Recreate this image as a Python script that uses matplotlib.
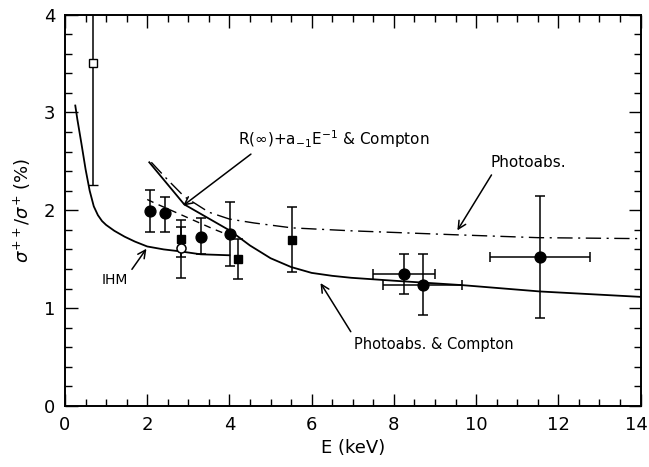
import matplotlib
matplotlib.use("Agg")
import matplotlib.pyplot as plt
from matplotlib.ticker import MultipleLocator
import numpy as np

# ---- data ----
# filled circles
circ_x = [2.06, 2.44, 3.32, 4.01, 8.24, 8.70, 11.56]
circ_y = [1.99, 1.97, 1.73, 1.76, 1.35, 1.235, 1.52]
circ_ylo = [1.78, 1.78, 1.55, 1.43, 1.14, 0.93, 0.90]
circ_yhi = [2.21, 2.14, 1.92, 2.08, 1.55, 1.55, 2.15]
circ_xlo = [2.06, 2.44, 3.32, 4.01, 7.49, 7.73, 10.34]
circ_xhi = [2.06, 2.44, 3.32, 4.01, 8.99, 9.66, 12.78]

# filled squares
sq_x = [2.82, 4.22, 5.52]
sq_y = [1.71, 1.50, 1.70]
sq_ylo = [1.52, 1.30, 1.37]
sq_yhi = [1.90, 1.71, 2.03]

# open circle
oc_x = [2.82]
oc_y = [1.61]
oc_ylo = [1.31]
oc_yhi = [1.83]

# open square
os_x = [0.67]
os_y = [3.50]
os_ylo = [2.26]
os_yhi = [4.3]

# IHM curve (solid)
ihm_x = [0.25, 0.30, 0.40, 0.50, 0.60, 0.70, 0.80, 0.90, 1.00, 1.20, 1.45, 1.70, 2.00, 2.40, 2.80, 3.30, 4.00]
ihm_y = [3.07, 2.93, 2.68, 2.42, 2.20, 2.04, 1.95, 1.89, 1.85, 1.79, 1.73, 1.68, 1.63, 1.60, 1.58, 1.55, 1.54]

# Photoabs. & Compton (solid)
pc_x = [2.05, 2.90, 4.02, 4.50, 4.77, 5.00, 5.50, 6.00, 6.50, 6.96, 8.00, 9.66, 11.56, 14.0]
pc_y = [2.49, 2.06, 1.79, 1.64, 1.57, 1.51, 1.42, 1.36, 1.33, 1.31, 1.28, 1.235, 1.17, 1.115]

# Photoabs. (dash-dot)
pa_x = [2.1, 2.5, 2.9, 3.5, 4.0, 4.6, 5.52, 6.96, 9.46, 11.5, 14.0]
pa_y = [2.49, 2.31, 2.14, 1.98, 1.91, 1.87, 1.82, 1.79, 1.75, 1.72, 1.71]

# R(inf)+a_-1 E^-1 & Compton (dashed)
ra_x = [2.0, 2.2, 2.9, 3.6, 3.9]
ra_y = [2.11, 2.07, 1.94, 1.81, 1.76]

x_ticks = [0, 2, 4, 6, 8, 10, 12, 14]
x_ticklabels = ['0', '2', '4', '6', '8', '10', '12', '14']

fig = plt.figure(figsize=(6.49, 4.67), dpi=100)
ax = fig.add_axes([65/649, 1-406/467, 575.5/649, 391.5/467])

lw = 1.3
ax.plot(ihm_x, ihm_y, color='black', lw=lw)
ax.plot(pc_x, pc_y, color='black', lw=lw)
ax.plot(pa_x, pa_y, color='black', lw=1.0, dashes=(11, 4, 1.5, 4))
ax.plot(ra_x, ra_y, color='black', lw=1.0, dashes=(5, 4))

ekw = dict(ecolor='black', elinewidth=1.1, capsize=3.8, capthick=1.1, linestyle='none')

ax.errorbar(circ_x, circ_y,
            yerr=[np.subtract(circ_y, circ_ylo), np.subtract(circ_yhi, circ_y)],
            xerr=[np.subtract(circ_x, circ_xlo), np.subtract(circ_xhi, circ_x)],
            marker='o', ms=7.8, mfc='black', mec='black', **ekw)
ax.errorbar(sq_x, sq_y,
            yerr=[np.subtract(sq_y, sq_ylo), np.subtract(sq_yhi, sq_y)],
            marker='s', ms=6.2, mfc='black', mec='black', **ekw)
ax.errorbar(oc_x, oc_y,
            yerr=[np.subtract(oc_y, oc_ylo), np.subtract(oc_yhi, oc_y)],
            marker='o', ms=6.5, mfc='white', mec='black', mew=1.1, **ekw)
ax.errorbar(os_x, os_y,
            yerr=[np.subtract(os_y, os_ylo), np.subtract(os_yhi, os_y)],
            marker='s', ms=6, mfc='white', mec='black', mew=1.0, **ekw)

ax.set_xlim(0, 14)
ax.set_ylim(0, 4)
ax.set_xticks(x_ticks)
ax.set_xticklabels(x_ticklabels[:-1] + [''])
ax.xaxis.set_minor_locator(MultipleLocator(0.5))
ax.yaxis.set_major_locator(MultipleLocator(1))
ax.yaxis.set_minor_locator(MultipleLocator(0.2))
ax.tick_params(which='both', direction='in', top=True, right=True,
               labelsize=13, width=1.0, pad=7)
ax.tick_params(which='major', length=9)
ax.tick_params(which='minor', length=5)
for s in ax.spines.values():
    s.set_linewidth(1.4)

# last x tick label, nudged left so it stays inside the figure
ax.annotate(x_ticklabels[-1], xy=(x_ticks[-1], 0), xycoords=('data', 'axes fraction'),
            xytext=(-3, -7), textcoords='offset points', ha='center', va='top',
            fontsize=13)

ax.set_xlabel('E (keV)', fontsize=13, labelpad=4)
ax.set_ylabel(r'$\sigma^{++}/\sigma^{+}$ (%)', fontsize=13, labelpad=8)

akw = dict(arrowstyle='->', color='black', lw=1.1, mutation_scale=14)
ax.annotate(r'R($\infty$)+a$_{-1}$E$^{-1}$ & Compton', xy=(2.82, 2.03), xytext=(4.2, 2.73),
            fontsize=11, va='center', ha='left',
            arrowprops=dict(**akw, relpos=(0.1, 0.0)))
ax.annotate('Photoabs.', xy=(9.51, 1.77), xytext=(10.36, 2.49),
            fontsize=11, va='center', ha='left',
            arrowprops=dict(**akw, relpos=(0.05, 0.0)))
ax.annotate('Photoabs. & Compton', xy=(6.18, 1.28), xytext=(7.03, 0.63),
            fontsize=10.5, va='center', ha='left',
            arrowprops=dict(**akw, relpos=(0.0, 1.0)))
ax.annotate('IHM', xy=(2.02, 1.63), xytext=(0.88, 1.29),
            fontsize=10, va='center', ha='left',
            arrowprops=dict(**akw, relpos=(1.0, 0.8)))

fig.savefig('out.png', dpi=100)
